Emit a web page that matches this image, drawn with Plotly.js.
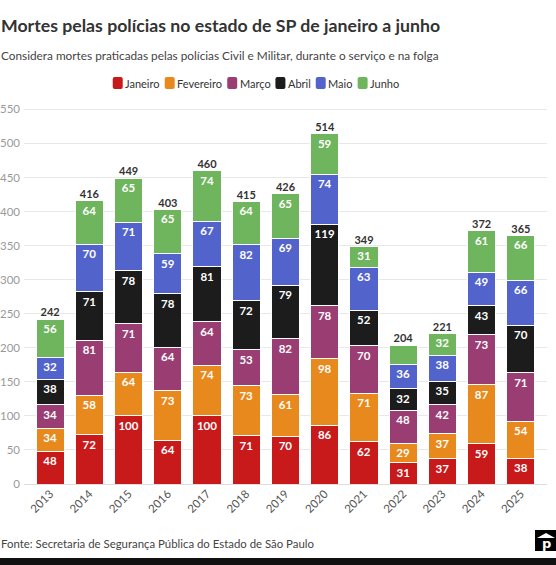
<!DOCTYPE html>
<html>
<head>
<meta charset="utf-8">
<script src="https://cdn.plot.ly/plotly-3.0.1.min.js"></script>
<style>html,body{margin:0;padding:0;background:#fff;}#chart{width:556px;height:565px;}</style>
</head>
<body>
<div id="chart"></div>
<script>
const years = ['2013','2014','2015','2016','2017','2018','2019','2020','2021','2022','2023','2024','2025'];
const janeiro   = [48, 72, 100, 64, 100, 71, 70, 86, 62, 31, 37, 59, 38];
const fevereiro = [34, 58, 64, 73, 74, 73, 61, 98, 71, 29, 37, 87, 54];
const marco     = [34, 81, 71, 64, 64, 53, 82, 78, 70, 48, 42, 73, 71];
const abril     = [38, 71, 78, 78, 81, 72, 79, 119, 52, 32, 35, 43, 70];
const maio      = [32, 70, 71, 59, 67, 82, 69, 74, 63, 36, 38, 49, 66];
const junho     = [56, 64, 65, 65, 74, 64, 65, 59, 31, 28, 32, 61, 66];
const seriesNames = ['Janeiro','Fevereiro','Março','Abril','Maio','Junho'];
const seriesData = [janeiro, fevereiro, marco, abril, maio, junho];
const colors = ['#c8191b','#e8891d','#9a3d72','#1c1c1c','#5363cc','#6fb55e'];
const hiddenLabels = {5: ['2022']};

const FONT = 'Lato, Noto Sans, sans-serif';
const totals = years.map((_, i) => seriesData.reduce((s, arr) => s + arr[i], 0));

const traces = seriesData.map((vals, k) => ({
  type: 'bar',
  name: seriesNames[k],
  x: years,
  y: vals,
  text: vals.map((v, i) => (hiddenLabels[k] && hiddenLabels[k].includes(years[i])) ? '' : String(v)),
  textposition: 'inside',
  insidetextanchor: 'end',
  textangle: 0,
  constraintext: 'none',
  textfont: {family: FONT, size: 11.5, color: '#ffffff', weight: 700},
  marker: {color: colors[k], line: {color: '#ffffff', width: 1}},
  showlegend: false,
  hoverinfo: 'skip'
}));

traces.push({
  type: 'scatter',
  mode: 'text',
  x: years,
  y: totals,
  text: totals.map(String),
  textposition: 'top center',
  textfont: {family: FONT, size: 11, color: '#333333', weight: 700},
  showlegend: false,
  hoverinfo: 'skip',
  cliponaxis: false
});

const P = y => (484 - y) / 376;
const X = x => (x - 24) / 523;

// manual legend laid out sequentially, centred on pixel 255
const LEG_SIZE = 11;
const ctx = document.createElement('canvas').getContext('2d');
ctx.font = LEG_SIZE + 'px Lato';
const widths = seriesNames.map(n => ctx.measureText(n).width);
const SW = 10, GAP_IN = 1.5, GAP_OUT = 6;
const totalW = widths.reduce((s, w) => s + SW + GAP_IN + w, 0) + GAP_OUT * (seriesNames.length - 1);
let cx = 255.5 - totalW / 2;
const legendShapes = [];
const legendAnns = [];
seriesNames.forEach((n, k) => {
  legendShapes.push({type: 'path', xref: 'paper', yref: 'paper',
    path: `M ${X(cx+2)} ${P(77)} L ${X(cx+SW-2)} ${P(77)} Q ${X(cx+SW)} ${P(77)} ${X(cx+SW)} ${P(79)} L ${X(cx+SW)} ${P(87)} Q ${X(cx+SW)} ${P(89)} ${X(cx+SW-2)} ${P(89)} L ${X(cx+2)} ${P(89)} Q ${X(cx)} ${P(89)} ${X(cx)} ${P(87)} L ${X(cx)} ${P(79)} Q ${X(cx)} ${P(77)} ${X(cx+2)} ${P(77)} Z`,
    fillcolor: colors[k], line: {width: 0}});
  legendAnns.push({text: n, xref: 'paper', yref: 'paper', x: X(cx + SW + GAP_IN), y: P(83),
    xanchor: 'left', yanchor: 'middle', showarrow: false, borderpad: 0,
    font: {size: LEG_SIZE, color: '#333', family: FONT}});
  cx += SW + GAP_IN + widths[k] + GAP_OUT;
});

const layout = {
  width: 556, height: 565,
  margin: {l: 24, r: 9, t: 108, b: 81},
  paper_bgcolor: '#ffffff',
  plot_bgcolor: '#ffffff',
  barmode: 'stack',
  bargap: 0.28,
  font: {family: FONT, color: '#333'},
  showlegend: false,
  xaxis: {
    type: 'category',
    tickangle: -45,
    tickfont: {size: 11.5, color: '#555'},
    showgrid: false,
    showline: false,
    ticks: '',
    zeroline: false
  },
  yaxis: {
    range: [0, 552],
    tickvals: [0,50,100,150,200,250,300,350,400,450,500,550],
    tickfont: {size: 11.5, color: '#9a9a9a'},
    gridcolor: '#e8e8e8',
    gridwidth: 1,
    zeroline: true,
    zerolinecolor: '#dddddd',
    showline: false,
    ticks: '',
    ticklabelstandoff: 3
  },
  annotations: [
    {text: '<b>Mortes pelas polícias no estado de SP de janeiro a junho</b>', xref: 'paper', yref: 'paper',
     x: X(0), y: P(25), xanchor: 'left', yanchor: 'middle', showarrow: false, borderpad: 0,
     font: {size: 17.7, color: '#333', family: FONT}},
    {text: 'Considera mortes praticadas pelas polícias Civil e Militar, durante o serviço e na folga', xref: 'paper', yref: 'paper',
     x: X(0), y: P(56), xanchor: 'left', yanchor: 'middle', showarrow: false, borderpad: 0,
     font: {size: 11.8, color: '#444', family: FONT}},
    {text: 'Fonte: Secretaria de Segurança Pública do Estado de São Paulo', xref: 'paper', yref: 'paper',
     x: X(0), y: P(543), xanchor: 'left', yanchor: 'middle', showarrow: false, borderpad: 0,
     font: {size: 11.4, color: '#444', family: FONT}},
    {text: '<b>p</b>', xref: 'paper', yref: 'paper',
     x: X(546), y: P(543), xanchor: 'center', yanchor: 'middle', showarrow: false,
     font: {size: 13, color: '#fff', family: 'DejaVu Sans, sans-serif'}}
  ].concat(legendAnns),
  shapes: [
    {type: 'rect', xref: 'paper', yref: 'paper', x0: X(535), x1: X(557), y0: P(551), y1: P(530),
     fillcolor: '#000', line: {width: 0}},
    {type: 'path', xref: 'paper', yref: 'paper',
     path: `M ${X(537)} ${P(538)} L ${X(546)} ${P(533)} L ${X(555)} ${P(538)} Z`,
     fillcolor: '#fff', line: {width: 0}},
    {type: 'rect', xref: 'paper', yref: 'paper', x0: X(-2), x1: X(560), y0: P(566), y1: P(558),
     fillcolor: '#111', line: {width: 0}}
  ].concat(legendShapes)
};

Plotly.newPlot('chart', traces, layout, {displayModeBar: false, staticPlot: true});
</script>
</body>
</html>
